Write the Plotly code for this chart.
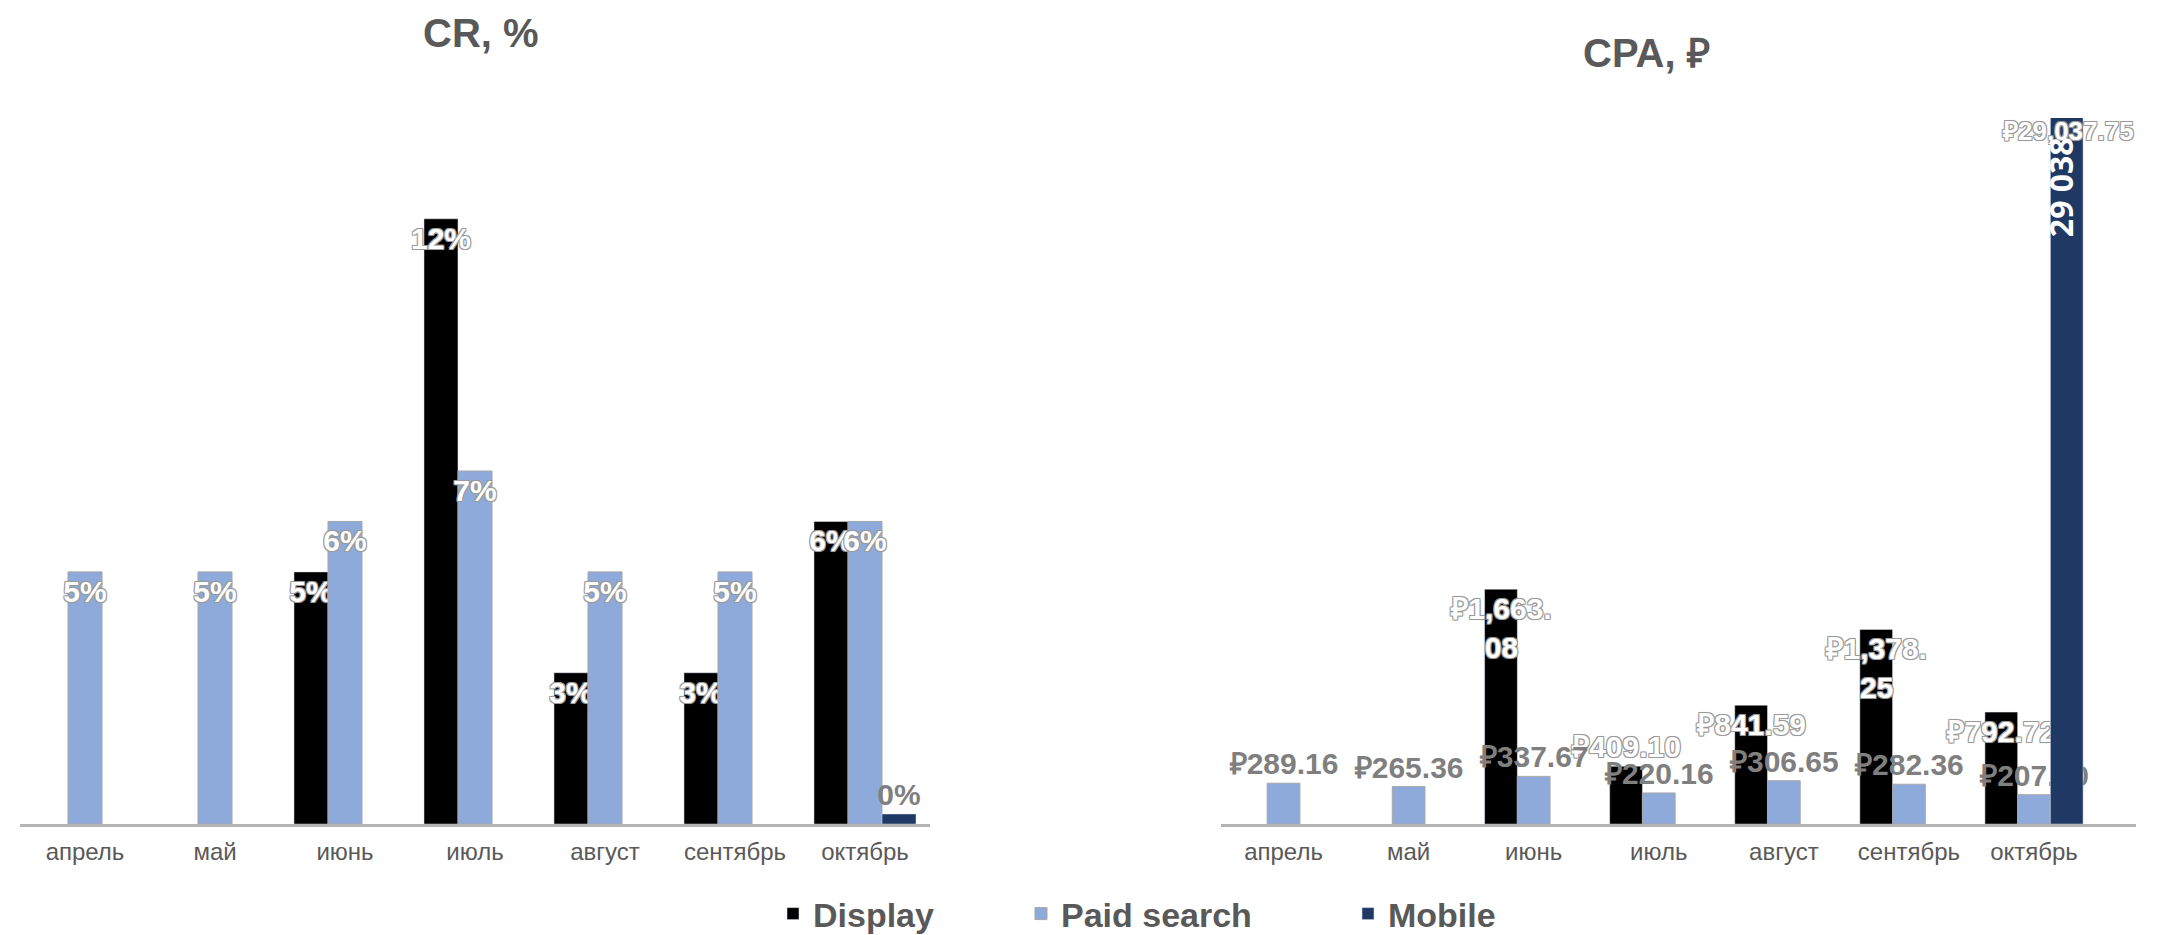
import plotly.graph_objects as go

# ---------------- data ----------------
months = ["апрель", "май", "июнь", "июль", "август", "сентябрь", "октябрь"]

cr_display = [None, None, 0.05, 0.12, 0.03, 0.03, 0.06]
cr_paid = [0.05, 0.05, 0.06, 0.07, 0.05, 0.05, 0.06]
cr_mobile = [None, None, None, None, None, None, 0.002]

cpa_display = [None, None, 1663.08, 409.10, 841.59, 1378.25, 792.72]
cpa_paid = [289.16, 265.36, 337.67, 220.16, 306.65, 282.36, 207.70]
cpa_mobile = [None, None, None, None, None, None, 29037.75]

series_names = ["Display", "Paid search", "Mobile"]
titles = ["CR, %", "CPA, ₽"]

# ---------------- styles ----------------
W, H = 2182, 935
C_DISPLAY = "#000000"
C_PAID = "#8EAADB"
C_MOBILE = "#1F3864"
TXT_GRAY = "#595959"
FONT = "Liberation Sans"
OUTLINE = ("-1px -1px 0 #9a9a9a, 1px -1px 0 #9a9a9a, -1px 1px 0 #9a9a9a, "
           "1px 1px 0 #9a9a9a, 0 0 2px #9a9a9a")

label_font = dict(family=FONT, size=30, color="white", weight="bold", shadow=OUTLINE)
gray_label_font = dict(family=FONT, size=30, color="#7f7f7f", weight="bold", shadow="none")

PLOT_TOP, PLOT_BOTTOM = 111, 824
y_domain = [(H - PLOT_BOTTOM) / H, (H - PLOT_TOP) / H]


def rub(v, wrap=False):
    if v is None:
        return ""
    s = f"₽{v:,.2f}"
    if wrap and v >= 1000:
        a, b = s.split(".")
        s = a + ".<br>" + b
    return s


def pct(v):
    return "" if v is None else f"{v * 100:.0f}%"


fig = go.Figure()

common = dict(constraintext="none", textangle=0, cliponaxis=False)

# ---- left chart (CR) ----
fig.add_trace(go.Bar(x=months, y=cr_display, name=series_names[0], marker_color=C_DISPLAY,
                     text=[pct(v) for v in cr_display], textposition="inside",
                     insidetextanchor="end", textfont=label_font, insidetextfont=label_font,
                     xaxis="x", yaxis="y", legend="legend", showlegend=True, **common))
fig.add_trace(go.Bar(x=months, y=cr_paid, name=series_names[1], marker_color=C_PAID,
                     marker_line=dict(color="#a6a6a6", width=1),
                     text=[pct(v) for v in cr_paid], textposition="inside",
                     insidetextanchor="end", textfont=label_font, insidetextfont=label_font,
                     xaxis="x", yaxis="y", legend="legend2", showlegend=True, **common))
fig.add_trace(go.Bar(x=months, y=cr_mobile, name=series_names[2], marker_color=C_MOBILE,
                     text=[pct(v) for v in cr_mobile], textposition="outside",
                     textfont=gray_label_font, outsidetextfont=gray_label_font,
                     xaxis="x", yaxis="y", legend="legend3", showlegend=True, **common))

# ---- right chart (CPA) ----
display_pos = ["inside", "inside", "inside", "outside", "inside", "inside", "inside"]
fig.add_trace(go.Bar(x=months, y=cpa_display, name=series_names[0], marker_color=C_DISPLAY,
                     text=[rub(v, wrap=True) for v in cpa_display], textposition=display_pos,
                     insidetextanchor="end", textfont=label_font, insidetextfont=label_font,
                     outsidetextfont=label_font,
                     xaxis="x2", yaxis="y2", showlegend=False, **common))
fig.add_trace(go.Bar(x=months, y=cpa_paid, name=series_names[1], marker_color=C_PAID,
                     marker_line=dict(color="#a6a6a6", width=1),
                     text=[rub(v) for v in cpa_paid], textposition="outside",
                     textfont=gray_label_font, outsidetextfont=gray_label_font,
                     xaxis="x2", yaxis="y2", showlegend=False, **common))
fig.add_trace(go.Bar(x=months, y=cpa_mobile, name=series_names[2], marker_color=C_MOBILE,
                     xaxis="x2", yaxis="y2", showlegend=False))

# labels of the clipped Mobile bar (value far above the axis maximum)
mob_val = cpa_mobile[-1]
fig.add_annotation(x=months[-1], xref="x2", y=0.981, yref="y2 domain", xshift=34,
                   yanchor="middle", text=rub(mob_val), showarrow=False,
                   font=dict(family=FONT, size=26, color="white", weight="bold", shadow=OUTLINE))
fig.add_annotation(x=months[-1], xref="x2", y=0.902, yref="y2 domain", xshift=26,
                   yanchor="middle", xanchor="center",
                   text=f"{round(mob_val):,}".replace(",", " "), textangle=-90, showarrow=False,
                   font=dict(family="Open Sans", size=32, color="white", weight="bold"))

# titles
fig.add_annotation(x=473 / W, y=(H - 25) / H, xref="paper", yref="paper", text=titles[0],
                   xanchor="center", yanchor="middle", showarrow=False,
                   font=dict(family=FONT, size=40, color=TXT_GRAY, weight="bold"))
fig.add_annotation(x=1638 / W, y=(H - 45) / H, xref="paper", yref="paper", text=titles[1],
                   xanchor="center", yanchor="middle", showarrow=False,
                   font=dict(family=FONT, size=40, color=TXT_GRAY, weight="bold"))

xaxis_style = dict(type="category", showline=True, linecolor="#b4b4b4", linewidth=3,
                   ticks="", showgrid=False, zeroline=False, ticklabelstandoff=4,
                   tickfont=dict(family=FONT, size=24, color=TXT_GRAY), fixedrange=True)
yaxis_style = dict(visible=False, showgrid=False, zeroline=False, fixedrange=True, domain=y_domain)

legend_style = dict(orientation="h", yanchor="middle", y=(H - 915) / H, xanchor="left",
                    bgcolor="rgba(0,0,0,0)",
                    font=dict(family=FONT, size=34, color=TXT_GRAY, weight="bold"))

fig.update_layout(
    width=W, height=H,
    margin=dict(l=0, r=0, t=0, b=0),
    paper_bgcolor="white", plot_bgcolor="white",
    barmode="group", bargap=0.215, bargroupgap=0,
    xaxis=dict(domain=[12 / W, 922 / W], anchor="y", **xaxis_style),
    yaxis=dict(range=[0, 0.14], anchor="x", **yaxis_style),
    xaxis2=dict(domain=[1213 / W, 2128 / W], anchor="y2", **xaxis_style),
    yaxis2=dict(range=[0, 5000], anchor="x2", **yaxis_style),
    legend=dict(x=765 / W, **legend_style),
    legend2=dict(x=1013 / W, **legend_style),
    legend3=dict(x=1340 / W, **legend_style),
    showlegend=True,
)

fig.write_html("out.html")
